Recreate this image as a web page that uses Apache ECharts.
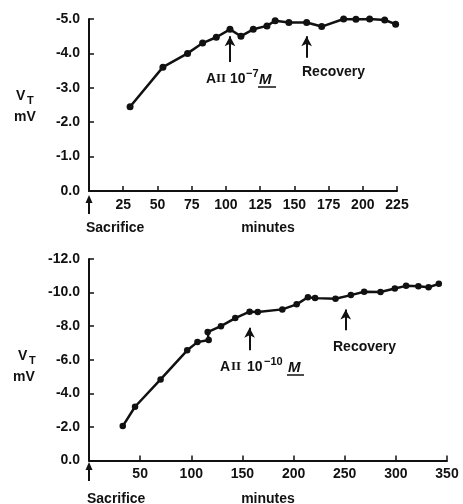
<!DOCTYPE html>
<html>
<head>
<meta charset="utf-8">
<script src="https://cdn.jsdelivr.net/npm/echarts@6/dist/echarts.min.js"></script>
<style>
  html, body { margin: 0; padding: 0; background: #fff; }
  #chart { width: 463px; height: 504px; }
</style>
</head>
<body>
<div id="chart"></div>
<script>
// top panel: AII 10^-7 M
const topMinutes = [30, 54, 72, 83, 93, 103, 111, 120, 130, 136, 146, 159, 170, 186, 195, 205, 216, 224]
const topVt = [-2.45, -3.6, -4.0, -4.3, -4.47, -4.7, -4.5, -4.7, -4.8, -4.95, -4.9, -4.9, -4.78, -5.0, -4.99, -5.0, -4.97, -4.85]

// bottom panel: AII 10^-10 M
const botMinutes = [33, 45, 70, 96, 106, 117, 116, 129, 143, 157, 165, 189, 203, 214, 221, 241, 256, 269, 285, 299, 310, 322, 332, 342]
const botVt = [-2.05, -3.2, -4.83, -6.56, -7.05, -7.18, -7.65, -8.0, -8.48, -8.86, -8.85, -9.0, -9.3, -9.72, -9.67, -9.63, -9.85, -10.05, -10.03, -10.24, -10.4, -10.37, -10.32, -10.52]

// arrows: [minute, base value, tip value]
const topArrows = [[103, -3.75, -4.5], [159, -3.87, -4.5]]
const botArrows = [[157, -6.56, -7.9], [251, -7.75, -9.0]]

const FONT = "Liberation Sans, Arial, sans-serif"
const INK = "#111"

const chart = echarts.init(document.getElementById("chart"), null, { renderer: "canvas" })

const xAxisBase = (idx, max, interval) => ({
  type: "value",
  gridIndex: idx,
  min: 0,
  max: max,
  interval: interval,
  axisLine: { lineStyle: { color: INK, width: 2 } },
  axisTick: { inside: true, length: 5, lineStyle: { color: INK, width: 1.5 } },
  axisLabel: {
    margin: 7,
    color: INK,
    fontFamily: FONT,
    fontWeight: "bold",
    fontSize: 14,
    formatter: (v) => (v === 0 ? "" : String(v)),
  },
  splitLine: { show: false },
})

const yAxisBase = (idx, min, interval) => ({
  type: "value",
  gridIndex: idx,
  min: min,
  max: 0,
  interval: interval,
  inverse: true,
  axisLine: { show: true, lineStyle: { color: INK, width: 2 } },
  axisTick: { show: true, inside: true, length: 5, lineStyle: { color: INK, width: 1.5 } },
  axisLabel: {
    margin: 9,
    color: INK,
    fontFamily: FONT,
    fontWeight: "bold",
    fontSize: 14,
    formatter: (v) => v.toFixed(1),
  },
  splitLine: { show: false },
})

const arrowLines = (arrows) =>
  arrows.map((a) => [{ coord: [a[0], a[1]] }, { coord: [a[0], a[2]] }])

const seriesBase = (idx, xs, ys, arrows, size) => ({
  type: "line",
  xAxisIndex: idx,
  yAxisIndex: idx,
  data: xs.map((x, i) => [x, ys[i]]),
  symbol: "circle",
  symbolSize: size,
  itemStyle: { color: INK },
  lineStyle: { color: INK, width: 2.5 },
  silent: true,
  markLine: {
    silent: true,
    symbol: ["none", "arrow"],
    symbolSize: [8, 10],
    label: { show: false },
    lineStyle: { color: INK, width: 2, type: "solid" },
    data: arrowLines(arrows),
  },
})

const txt = (x, y, text, extra) => ({
  type: "text",
  x: x,
  y: y,
  style: Object.assign(
    {
      text: text,
      fill: INK,
      font: "bold 14px " + FONT,
      textAlign: "left",
      textVerticalAlign: "middle",
    },
    extra || {}
  ),
})

// "AII 10^exp M" built from pieces: p = [xA, xII, x10, xSup, xM, xMend, yMid]
const aiiLabel = (p, exp) => {
  const y = p[6]
  return [
    txt(p[0], y, "A"),
    txt(p[1], y, "II", { font: "bold 13px Liberation Serif, serif" }),
    txt(p[2], y, "10"),
    txt(p[3], y - 5, exp, { font: "bold 11px " + FONT }),
    txt(p[4], y + 1, "M", { font: "italic bold 15px " + FONT }),
    { type: "line", shape: { x1: p[4] - 1, y1: y + 8, x2: p[5], y2: y + 8 }, style: { stroke: INK, lineWidth: 1.5 } },
  ]
}

const upArrow = (x, yTip, yBase) => [
  { type: "line", shape: { x1: x, y1: yBase, x2: x, y2: yTip + 5 }, style: { stroke: INK, lineWidth: 2 } },
  { type: "polygon", shape: { points: [[x - 3.5, yTip + 8], [x + 3.5, yTip + 8], [x, yTip]] }, style: { fill: INK } },
]

const option = {
  animation: false,
  backgroundColor: "#fff",
  grid: [
    { left: 89, top: 19, width: 308, height: 172, outerBoundsMode: "none" },
    { left: 89, top: 259, width: 358, height: 201.5, outerBoundsMode: "none" },
  ],
  xAxis: [xAxisBase(0, 225, 25), xAxisBase(1, 350, 50)],
  yAxis: [yAxisBase(0, -5, 1), yAxisBase(1, -12, 2)],
  series: [
    seriesBase(0, topMinutes, topVt, topArrows, 7),
    seriesBase(1, botMinutes, botVt, botArrows, 6.5),
  ],
  graphic: [
    // top panel texts
    txt(16, 96, "V"),
    txt(27, 101, "T", { font: "bold 11px " + FONT }),
    txt(14, 117, "mV"),
    ...aiiLabel([206, 216, 230, 246, 259, 276, 79], "\u22127"),
    txt(302, 72, "Recovery"),
    txt(86, 228, "Sacrifice"),
    txt(268, 228, "minutes", { textAlign: "center" }),
    ...upArrow(89, 195, 214),
    // bottom panel texts
    txt(18, 356, "V"),
    txt(29, 361, "T", { font: "bold 11px " + FONT }),
    txt(13, 377, "mV"),
    ...aiiLabel([220, 231, 247, 264, 288, 304, 367], "\u221210"),
    txt(333, 347, "Recovery"),
    txt(87, 499, "Sacrifice"),
    txt(268, 499, "minutes", { textAlign: "center" }),
    ...upArrow(89, 462, 481),
  ],
}

chart.setOption(option)
</script>
</body>
</html>
